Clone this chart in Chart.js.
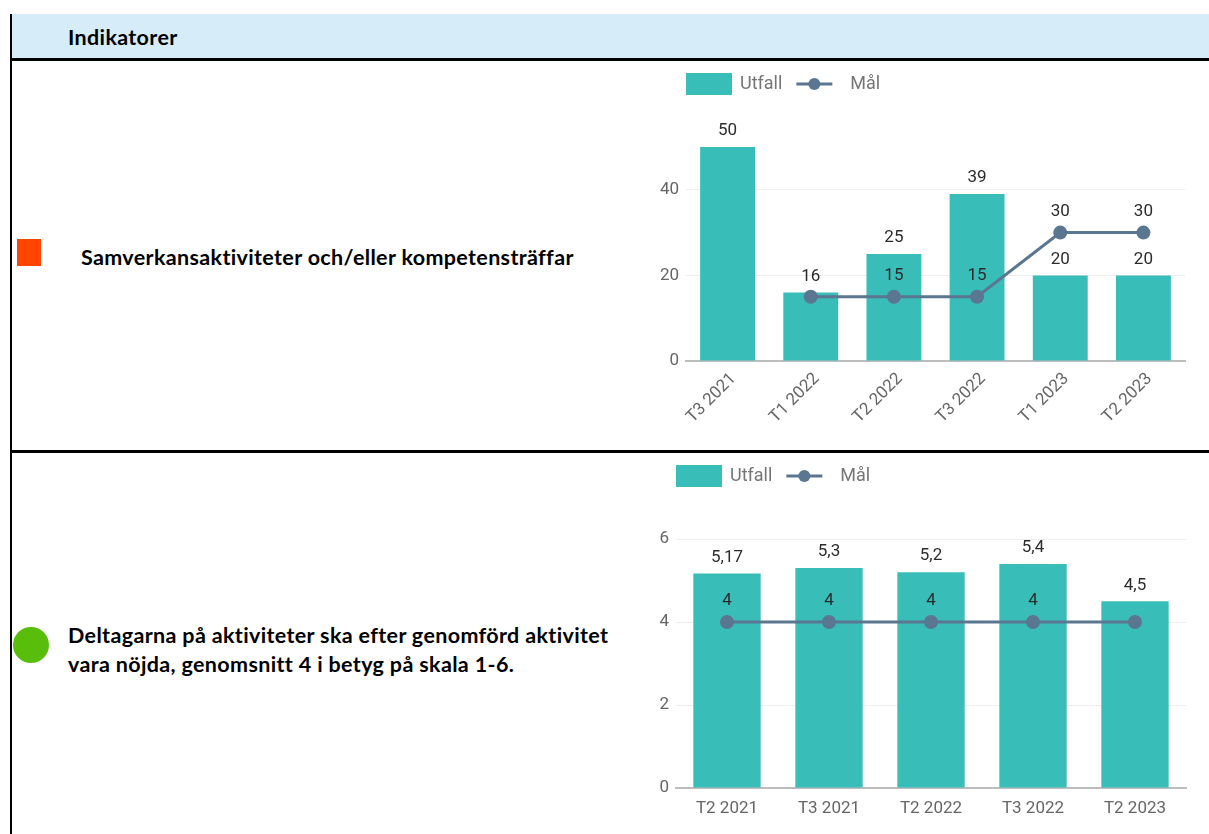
<!DOCTYPE html>
<html lang="sv">
<head>
<meta charset="utf-8">
<title>Indikatorer</title>
<script src="https://cdn.jsdelivr.net/npm/chart.js@4.4.1/dist/chart.umd.min.js"></script>
<style>
  html, body { margin: 0; padding: 0; background: #ffffff; }
  body { width: 1209px; height: 834px; position: relative; overflow: hidden; }
  .abs { position: absolute; }
  .vborder { left: 10px; top: 14px; width: 2px; height: 820px; background: #000; }
  .header { left: 12px; top: 14px; width: 1197px; height: 44px; background: #d6ecf8; }
  .hline { left: 10px; width: 1199px; height: 3px; background: #000; }
  .label {
    font-family: Lato, "Open Sans", sans-serif; font-weight: 700; font-size: 21.5px;
    letter-spacing: 0.35px; font-variant-ligatures: none;
    line-height: 29px; color: #000; white-space: nowrap;
  }
  .square { left: 17px; top: 239px; width: 24px; height: 27px; background: #ff4500; }
  .dot { left: 13px; top: 627px; width: 36px; height: 36px; border-radius: 50%; background: #58bd0b; }
  .chartbox { left: 640px; width: 569px; }
  .chartbox canvas { display: block; }
</style>
</head>
<body>
<div class="abs header"></div>
<div class="abs vborder"></div>
<div class="abs hline" style="top:58px"></div>
<div class="abs hline" style="top:450px"></div>

<div class="abs label" style="left:68px; top:23px;">Indikatorer</div>

<div class="abs square"></div>
<div class="abs label" style="left:81px; top:243px;">Samverkansaktiviteter och/eller kompetensträffar</div>

<div class="abs dot"></div>
<div class="abs label" style="left:68px; top:621px;">Deltagarna på aktiviteter ska efter genomförd aktivitet<br>vara nöjda, genomsnitt 4 i betyg på skala 1-6.</div>

<div class="abs chartbox" style="top:62px; height:388px;"><canvas id="chart1" width="569" height="388"></canvas></div>
<div class="abs chartbox" style="top:453px; height:381px;"><canvas id="chart2" width="569" height="381"></canvas></div>

<script>
// Samverkansaktiviteter per tertial
const periods1 = ['T3 2021', 'T1 2022', 'T2 2022', 'T3 2022', 'T1 2023', 'T2 2023'];
const utfall1 = [50, 16, 25, 39, 20, 20];
const mal1 = [null, 15, 15, 15, 30, 30];
const yTicks1 = [0, 20, 40];

// Nöjdhet bland deltagarna (skala 1-6)
const periods2 = ['T2 2021', 'T3 2021', 'T2 2022', 'T3 2022', 'T2 2023'];
const utfall2 = [5.17, 5.3, 5.2, 5.4, 4.5];
const mal2 = [4, 4, 4, 4, 4];
const yTicks2 = [0, 2, 4, 6];

const seriesNames = ['Utfall', 'Mål'];

const BAR_COLOR = '#38bdb9';
const LINE_COLOR = '#5b7690';
const TICK_COLOR = '#666666';
const FONT = 'Roboto, "Noto Sans", sans-serif';

const fmt = v => String(v).replace('.', ',');

// Value labels above bars and line points; a line label that would collide
// with an already drawn label is skipped.
const valueLabels = {
  id: 'valueLabels',
  afterDatasetsDraw(chart) {
    const ctx = chart.ctx;
    ctx.save();
    ctx.font = '17px ' + FONT;
    ctx.fillStyle = '#2b2b2b';
    ctx.textAlign = 'center';
    ctx.textBaseline = 'middle';
    const placed = [];
    const order = chart.data.datasets
      .map((ds, i) => ({ ds, i }))
      .sort((a, b) => (a.ds.type === 'bar' ? 0 : 1) - (b.ds.type === 'bar' ? 0 : 1));
    order.forEach(({ ds, i }) => {
      const meta = chart.getDatasetMeta(i);
      meta.data.forEach((el, j) => {
        const v = ds.data[j];
        if (v === null || v === undefined) return;
        const text = fmt(v);
        const x = el.x;
        const y = ds.type === 'bar' ? el.y - 16 : el.y - 21;
        const w = ctx.measureText(text).width;
        const r = { l: x - w / 2 - 2, r: x + w / 2 + 2, t: y - 9, b: y + 9 };
        const hit = placed.some(p => r.l < p.r && r.r > p.l && r.t < p.b && r.b > p.t);
        if (hit) return;
        placed.push(r);
        ctx.fillText(text, x, y);
      });
    });
    ctx.restore();
  }
};

// Legend row: filled box for the bars, line with a dot for the target
const legendRow = {
  id: 'legendRow',
  afterDraw(chart, args, opts) {
    const ctx = chart.ctx;
    const x0 = chart.chartArea.left;
    const cy = opts.y;
    ctx.save();
    ctx.font = '18px ' + FONT;
    ctx.textBaseline = 'middle';
    ctx.textAlign = 'left';
    ctx.fillStyle = BAR_COLOR;
    ctx.fillRect(x0, cy - 11, 46, 22);
    ctx.fillStyle = '#757575';
    ctx.fillText(seriesNames[0], x0 + 54, cy);
    let x = x0 + 54 + ctx.measureText(seriesNames[0]).width + 14;
    ctx.strokeStyle = LINE_COLOR;
    ctx.lineWidth = 3;
    ctx.beginPath();
    ctx.moveTo(x, cy);
    ctx.lineTo(x + 36, cy);
    ctx.stroke();
    ctx.fillStyle = LINE_COLOR;
    ctx.beginPath();
    ctx.arc(x + 18, cy, 6, 0, Math.PI * 2);
    ctx.fill();
    ctx.fillStyle = '#757575';
    ctx.fillText(seriesNames[1], x + 54, cy);
    ctx.restore();
  }
};

function makeChart(id, labels, bars, target, cfg) {
  return new Chart(document.getElementById(id), {
    type: 'bar',
    data: {
      labels: labels,
      datasets: [
        {
          type: 'line',
          label: seriesNames[1],
          data: target,
          order: 0,
          borderColor: LINE_COLOR,
          backgroundColor: LINE_COLOR,
          borderWidth: 3,
          pointRadius: 7,
          pointHoverRadius: 7,
          pointBorderWidth: 0,
          pointBackgroundColor: LINE_COLOR,
          tension: 0
        },
        {
          type: 'bar',
          label: seriesNames[0],
          data: bars,
          order: 1,
          backgroundColor: BAR_COLOR,
          barPercentage: 0.66,
          categoryPercentage: 1.0
        }
      ]
    },
    options: {
      responsive: false,
      animation: false,
      events: [],
      layout: { padding: { left: 0, right: cfg.padRight, top: cfg.padTop, bottom: 0 } },
      plugins: {
        legend: { display: false },
        tooltip: { enabled: false },
        legendRow: { y: cfg.legendY }
      },
      scales: {
        x: {
          grid: { display: false },
          border: { display: true, color: '#bdbdbd', width: 2 },
          ticks: {
            color: TICK_COLOR,
            font: { family: FONT, size: 17 },
            minRotation: cfg.rotation,
            maxRotation: cfg.rotation,
            autoSkip: false,
            padding: cfg.xPad,
            labelOffset: cfg.labelOffset
          },
          afterFit(scale) { scale.height = cfg.xHeight; }
        },
        y: {
          min: 0,
          max: cfg.max,
          grid: { color: '#eeeeee', lineWidth: 1, drawTicks: false },
          border: { display: false },
          ticks: {
            stepSize: cfg.step,
            color: TICK_COLOR,
            font: { family: FONT, size: 17 },
            padding: 7
          },
          afterBuildTicks(scale) {
            scale.ticks = cfg.ticks.map(v => ({ value: v }));
          },
          afterFit(scale) { scale.width = cfg.yWidth; }
        }
      }
    },
    plugins: [valueLabels, legendRow]
  });
}

makeChart('chart1', periods1, utfall1, mal1, {
  max: 50, step: 20, ticks: yTicks1,
  padTop: 85, padRight: 24, yWidth: 46, xHeight: 89,
  rotation: 45, xPad: 0, labelOffset: 6, legendY: 22
});

makeChart('chart2', periods2, utfall2, mal2, {
  max: 6, step: 2, ticks: yTicks2,
  padTop: 86, padRight: 23, yWidth: 36, xHeight: 46,
  rotation: 0, xPad: 3, labelOffset: 0, legendY: 23
});
</script>
</body>
</html>
